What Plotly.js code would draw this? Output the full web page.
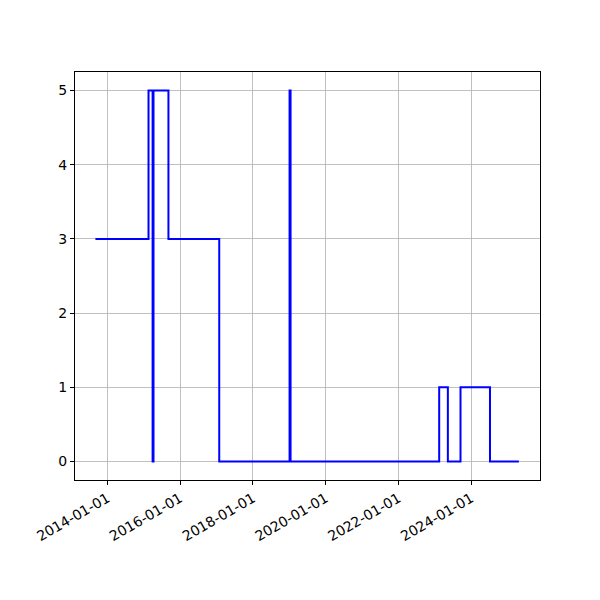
<!DOCTYPE html>
<html>
<head>
<meta charset="utf-8">
<script src="https://cdn.plot.ly/plotly-3.0.1.min.js"></script>
<style>html,body{margin:0;padding:0;background:#fff;}#chart{width:600px;height:600px;}</style>
</head>
<body>
<div id="chart"></div>
<script>
const dates = ["2013-09-03","2015-02-18","2015-03-31","2015-04-09","2015-09-06","2017-01-28","2019-01-04","2019-01-14","2023-02-14","2023-05-12","2023-09-16","2024-07-08","2025-04-24"];
const values = [3,5,0,5,3,0,5,0,1,0,1,0,0];
const tickLabelFormat = "%Y-%m-%d";

const trace = {
  x: dates, y: values, type: "scatter", mode: "lines",
  line: {shape: "hv", color: "#0000ff", width: 2},
  hoverinfo: "skip"
};
const font = {family: "DejaVu Sans, sans-serif", size: 14, color: "#000"};
const layout = {
  width: 600, height: 600,
  margin: {l: 75, r: 60, t: 72, b: 120, pad: 0},
  paper_bgcolor: "#fff", plot_bgcolor: "#fff",
  showlegend: false,
  font: font,
  xaxis: {
    type: "date",
    range: ["2013-02-10", "2025-11-22"],
    tick0: "2014-01-01", dtick: "M24", tickformat: tickLabelFormat,
    tickangle: -30,
    showgrid: true, gridcolor: "#b0b0b0", gridwidth: 0.8,
    showline: true, linecolor: "#000", linewidth: 1, mirror: true,
    ticks: "outside", ticklen: 4, tickcolor: "#000", tickwidth: 1,
    zeroline: false, tickfont: font
  },
  yaxis: {
    range: [-0.25, 5.25],
    tick0: 0, dtick: 1,
    showgrid: true, gridcolor: "#b0b0b0", gridwidth: 0.8,
    showline: true, linecolor: "#000", linewidth: 1, mirror: true,
    ticks: "outside", ticklen: 4, tickcolor: "#000", tickwidth: 1,
    zeroline: false, tickfont: font
  }
};
Plotly.newPlot("chart", [trace], layout, {displayModeBar: false, staticPlot: true});
</script>
</body>
</html>
